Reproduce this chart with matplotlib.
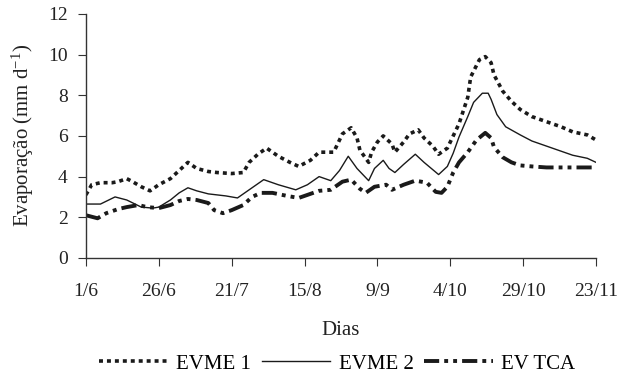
import matplotlib
matplotlib.use("Agg")
import matplotlib.pyplot as plt
import numpy as np

plt.rcParams['font.family'] = ['Liberation Serif', 'DejaVu Serif']
plt.rcParams['mathtext.fontset'] = 'custom'
plt.rcParams['mathtext.rm'] = 'Liberation Serif'
plt.rcParams['mathtext.it'] = 'Liberation Serif:italic'

# days counted from 1/6
evme1_days = [0, 2, 5, 9, 11, 14, 16, 19, 22, 25, 29, 32, 35, 38, 42, 45, 50, 54, 56, 59,
              62, 66, 70, 73, 77, 80, 85, 88, 91, 93, 94, 97, 98, 100, 102, 105, 106, 109,
              111, 114, 116, 119, 121, 124, 128, 131, 132, 135, 137, 139, 140, 143, 146,
              149, 153, 158, 163, 167, 172, 175]
evme1 = [3.1, 3.6, 3.7, 3.7, 3.75, 3.9, 3.75, 3.5, 3.3, 3.6, 3.9, 4.3, 4.7, 4.4, 4.25, 4.2,
         4.15, 4.2, 4.7, 5.1, 5.4, 5.0, 4.7, 4.5, 4.8, 5.2, 5.2, 6.1, 6.4, 5.9, 5.3, 4.7, 5.2,
         5.7, 6.0, 5.6, 5.2, 5.7, 6.1, 6.3, 5.9, 5.5, 5.1, 5.4, 6.6, 7.9, 8.9, 9.75, 9.9, 9.6,
         9.0, 8.2, 7.7, 7.3, 6.95, 6.7, 6.45, 6.2, 6.05, 5.8]

evme2_days = [0, 5, 10, 14, 19, 23, 25, 29, 32, 35, 38, 42, 45, 48, 52, 56, 61, 66, 72, 76,
              80, 84, 87, 90, 93, 97, 99, 102, 104, 106, 109, 113, 116, 121, 124, 126, 128,
              131, 133, 136, 138, 139, 141, 144, 149, 153, 158, 163, 167, 172, 175]
evme2 = [2.65, 2.65, 3.0, 2.85, 2.5, 2.45, 2.5, 2.85, 3.2, 3.45, 3.3, 3.15, 3.1, 3.05, 2.95,
         3.35, 3.85, 3.6, 3.35, 3.6, 4.0, 3.8, 4.3, 5.0, 4.4, 3.8, 4.4, 4.8, 4.4, 4.2, 4.6,
         5.1, 4.7, 4.1, 4.5, 5.15, 5.95, 6.95, 7.65, 8.1, 8.1, 7.8, 7.05, 6.45, 6.05, 5.75,
         5.5, 5.25, 5.05, 4.9, 4.7]

tca_days = [0, 4, 7, 11, 14, 18, 21, 25, 29, 32, 35, 38, 42, 44, 47, 50, 54, 57, 60, 64, 69,
            73, 76, 80, 84, 88, 91, 94, 96, 99, 103, 105, 109, 113, 117, 120, 122, 124, 126,
            128, 131, 134, 137, 139, 140, 143, 146, 149, 153, 158, 167, 175]
tca = [2.1, 1.95, 2.2, 2.4, 2.5, 2.6, 2.5, 2.45, 2.6, 2.8, 2.9, 2.85, 2.7, 2.35, 2.2, 2.35,
       2.6, 3.0, 3.2, 3.2, 3.05, 2.95, 3.1, 3.3, 3.35, 3.75, 3.85, 3.4, 3.2, 3.5, 3.6, 3.35,
       3.6, 3.8, 3.7, 3.25, 3.2, 3.5, 4.2, 4.7, 5.2, 5.8, 6.15, 5.9, 5.45, 4.95, 4.7, 4.55,
       4.5, 4.45, 4.45, 4.45]

tick_days = [0, 25, 50, 75, 100, 125, 150, 175]
tick_labels = ['1/6', '26/6', '21/7', '15/8', '9/9', '4/10', '29/10', '23/11']

fig = plt.figure(figsize=(6.27, 3.76), dpi=100)
ax = fig.add_axes([0.137, 0.314, 0.8136, 0.649])

c = '#1a1a1a'
ax.plot(evme1_days, evme1, color=c, lw=2.6, linestyle=(0, (1.1, 1.1)), label='EVME 1')
ax.plot(evme2_days, evme2, color=c, lw=1.0, linestyle='-', label='EVME 2')
ax.plot(tca_days, tca, color=c, lw=2.8, linestyle=(0, (3.9, 1.3, 1, 1.3, 1, 1.3)), label='EV TCA')

ax.set_xlim(0, 175)
ax.set_ylim(0, 12)
ax.set_yticks(range(0, 13, 2))
ax.set_xticks(tick_days)
ax.set_xticklabels(tick_labels)
ax.spines['top'].set_visible(False)
ax.spines['right'].set_visible(False)
for s in ('left', 'bottom'):
    ax.spines[s].set_color('#333333')
    ax.spines[s].set_linewidth(1.0)
ax.tick_params(axis='x', direction='out', length=6, pad=12, labelsize=14, colors='#333333',
               labelcolor='#222222')
ax.tick_params(axis='y', direction='out', length=6, pad=7, labelsize=14, colors='#333333',
               labelcolor='#222222')

ax.set_xlabel('Dias', fontsize=15, labelpad=15, color='#222222')
ax.set_ylabel(r'Evaporação (mm d$^{-1}$)', fontsize=15, labelpad=9, color='#222222')

fig.legend(loc='center', bbox_to_anchor=(0.538, 0.032), ncol=3, frameon=False,
           fontsize=15, handlelength=3.3, handletextpad=0.4, columnspacing=0.5,
           borderaxespad=0, borderpad=0)

fig.savefig('out.png', dpi=100)
